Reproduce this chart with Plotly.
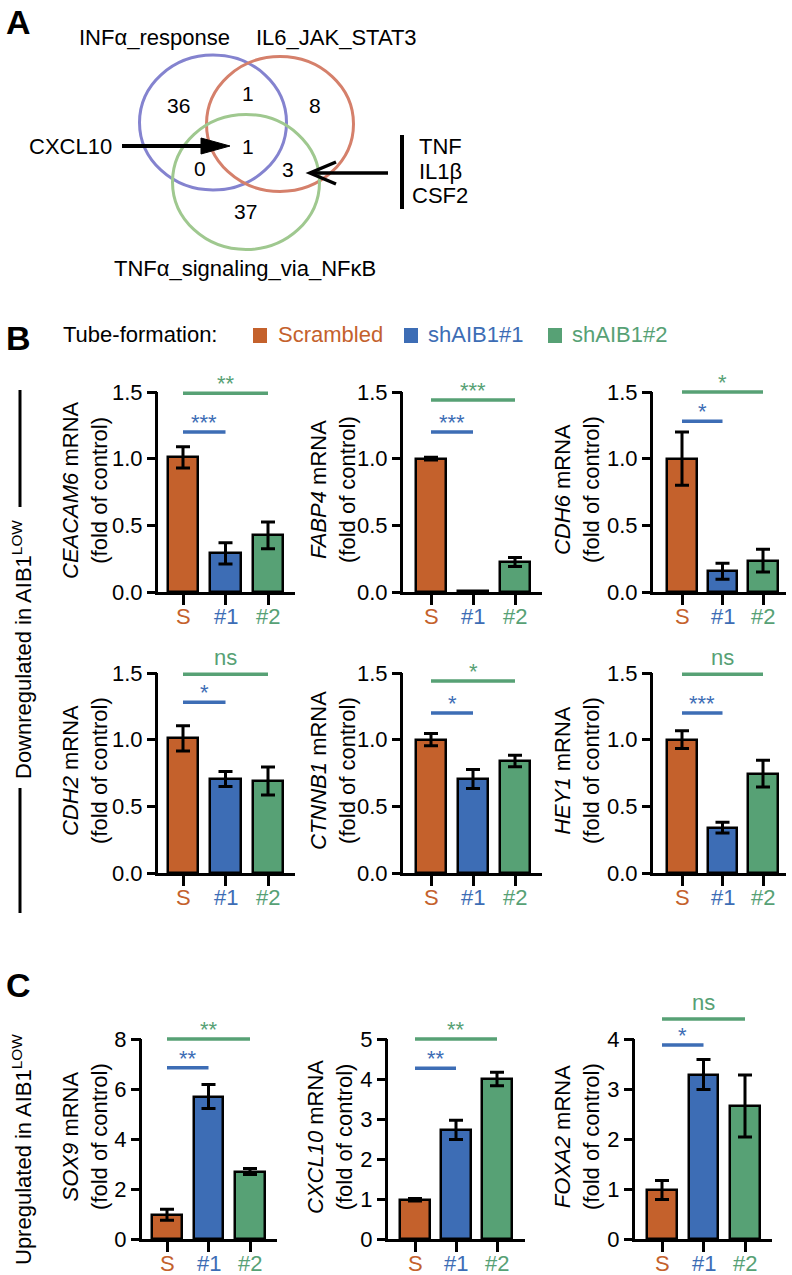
import plotly.graph_objects as go

W, H = 792, 1275
FONT = "Liberation Sans, Arial, Helvetica, sans-serif"
ORANGE = "#C4612C"
BLUE = "#3D6DB5"
GREEN = "#57A175"

# ---------------- data ----------------
groups = ["S", "#1", "#2"]
group_colors = [ORANGE, BLUE, GREEN]
legend_names = ["Scrambled", "shAIB1#1", "shAIB1#2"]

venn_sets = ["INFα_response", "IL6_JAK_STAT3", "TNFα_signaling_via_NFκB"]
venn_regions = ["INF", "IL6", "TNF", "INF&IL6", "INF&TNF", "IL6&TNF", "ALL"]
venn_counts = [36, 8, 37, 1, 0, 3, 1]
venn_cxcl10 = "CXCL10"
venn_shared_genes = ["TNF", "IL1β", "CSF2"]

genes_down = ["CEACAM6", "FABP4", "CDH6", "CDH2", "CTNNB1", "HEY1"]
means_down = [[1.01, 0.29, 0.425], [1.0, 0.004, 0.225], [1.0, 0.155, 0.235],
              [1.01, 0.705, 0.69], [1.0, 0.705, 0.84], [1.0, 0.34, 0.745]]
errs_down = [[0.08, 0.08, 0.10], [0.01, 0.0, 0.033], [0.20, 0.06, 0.085],
             [0.095, 0.057, 0.105], [0.046, 0.072, 0.044], [0.066, 0.04, 0.10]]
sig_down_labels = [["***", "**"], ["***", "***"], ["*", "*"],
                   ["*", "ns"], ["*", "*"], ["***", "ns"]]
sig_down_heights = [[1.2, 1.49], [1.2, 1.44], [1.28, 1.5],
                    [1.28, 1.49], [1.2, 1.44], [1.2, 1.49]]
down_ticks = [0.0, 0.5, 1.0, 1.5]

genes_up = ["SOX9", "CXCL10", "FOXA2"]
means_up = [[0.97, 5.7, 2.7], [0.98, 2.73, 4.0], [0.98, 3.29, 2.66]]
errs_up = [[0.22, 0.48, 0.12], [0.03, 0.24, 0.17], [0.19, 0.30, 0.62]]
sig_up_labels = [["**", "**"], ["**", "**"], ["*", "ns"]]
sig_up_heights = [[6.85, 8.0], [4.27, 5.0], [3.88, 4.4]]
up_ticks = [[0, 2, 4, 6, 8], [0, 1, 2, 3, 4, 5], [0, 1, 2, 3, 4]]

# ---------------- layout helpers (pixel positions) ----------------
def px(x):
    return x / W

def py(y):
    return 1 - y / H

AXIS_PX = 200      # pixel height from 0 to top tick
EXT = 1.14         # extra head-room for significance bars
XLAB_OFF = 24      # distance of category labels below the x axis

# (axis_x, s_center, spacing, end_x, title_cx)
B_cols = [(158, 183, 42.5, 295, 85), (403, 431, 42, 542, 333), (653, 682, 40.5, 786, 577)]
B_rows = [592, 873]
C_cols = [(142, 167, 41.5, 277, 85), (388, 415, 41, 525, 330), (635, 662, 41.5, 772, 577)]
C_row = 1239

panels = []
for i, g in enumerate(genes_down):
    ax_x, sc, sp, ex, tcx = B_cols[i % 3]
    panels.append(dict(gene=g, means=means_down[i], errs=errs_down[i],
                       sig=sig_down_labels[i], sigh=sig_down_heights[i],
                       ticks=down_ticks, fmt="{:.1f}",
                       geom=(ax_x, sc, sp, ex, B_rows[i // 3], tcx)))
for i, g in enumerate(genes_up):
    ax_x, sc, sp, ex, tcx = C_cols[i]
    panels.append(dict(gene=g, means=means_up[i], errs=errs_up[i],
                       sig=sig_up_labels[i], sigh=sig_up_heights[i],
                       ticks=up_ticks[i], fmt="{:d}",
                       geom=(ax_x, sc, sp, ex, C_row, tcx)))

fig = go.Figure()
annotations = []
shapes = []
layout_axes = {}

for k, p in enumerate(panels, start=1):
    sfx = "" if k == 1 else str(k)
    xa, ya = "x" + sfx, "y" + sfx
    ax_x, sc, sp, ex, zy, tcx = p["geom"]
    ymax = p["ticks"][-1]
    xr = [-(sc - ax_x) / sp, (ex - sc) / sp]
    top_px = zy - AXIS_PX * EXT

    fig.add_trace(go.Bar(
        x=[0, 1, 2], y=p["means"], width=0.72,
        marker=dict(color=group_colors, line=dict(color="black", width=2.5)),
        error_y=dict(type="data", array=p["errs"], visible=True, color="black",
                     thickness=3, width=7),
        xaxis=xa, yaxis=ya, showlegend=False, hoverinfo="skip"))

    sig_colors = [BLUE, GREEN]
    sig_ends = [1, 2]
    for j in range(2):
        h = p["sigh"][j]
        fig.add_trace(go.Scatter(
            x=[0, sig_ends[j]], y=[h, h], mode="lines",
            line=dict(color=sig_colors[j], width=3.5),
            xaxis=xa, yaxis=ya, showlegend=False, hoverinfo="skip"))
        lab = p["sig"][j]
        annotations.append(dict(
            x=sig_ends[j] / 2, y=h, xref=xa, yref=ya, text=lab, showarrow=False,
            xanchor="center", yanchor="bottom",
            yshift=(2 if lab == "ns" else -5),
            font=dict(family=FONT, size=22, color=sig_colors[j])))

    # category labels under the x axis
    for gi, (g, c) in enumerate(zip(groups, group_colors)):
        annotations.append(dict(
            x=gi, y=py(zy + XLAB_OFF), xref=xa, yref="paper", text=g, showarrow=False,
            xanchor="center", yanchor="middle",
            font=dict(family=FONT, size=22, color=c)))

    ticktext = [p["fmt"].format(t) for t in p["ticks"]]
    layout_axes["xaxis" + sfx] = dict(
        domain=[px(ax_x), px(ex)], range=xr, anchor=ya, automargin=False,
        tickvals=[0, 1, 2], showticklabels=False,
        ticks="outside", ticklen=10, tickwidth=3, tickcolor="black",
        showline=True, linewidth=3, linecolor="black",
        showgrid=False, zeroline=False, fixedrange=True)
    layout_axes["yaxis" + sfx] = dict(
        domain=[py(zy), py(top_px)], range=[0, ymax * EXT], anchor=xa, automargin=False,
        tickvals=p["ticks"], ticktext=ticktext,
        ticks="outside", ticklen=10, tickwidth=3, tickcolor="black",
        showline=False, showgrid=False, zeroline=False, fixedrange=True,
        tickfont=dict(family=FONT, size=22, color="black"))

    # y axis line only up to the top tick
    shapes.append(dict(type="line", xref="paper", yref="paper",
                       x0=px(ax_x - 1.5), x1=px(ax_x - 1.5),
                       y0=py(zy + 3), y1=py(zy - AXIS_PX),
                       line=dict(color="black", width=3)))
    # axis title
    annotations.append(dict(
        x=px(tcx), y=py(zy - AXIS_PX / 2 - 2), xref="paper", yref="paper",
        text=f"<i>{p['gene']}</i> mRNA<br>(fold of control)", textangle=-90,
        showarrow=False, xanchor="center", yanchor="middle",
        font=dict(family=FONT, size=22, color="black")))

# ---------------- panel letters ----------------
for letter, (lx, ly) in zip(["A", "B", "C"], [(18, 22), (18, 338), (18, 985)]):
    annotations.append(dict(x=px(lx), y=py(ly), xref="paper", yref="paper",
                            text=f"<b>{letter}</b>", showarrow=False,
                            xanchor="center", yanchor="middle",
                            font=dict(family=FONT, size=34, color="black")))

# ---------------- Venn diagram ----------------
venn_circle_geom = [(213, 122.5), (280, 124), (246, 182)]
venn_circle_colors = ["#8483CF", "#D5806B", "#9FC88F"]
RX, RY = 73.5, 67.5
for (cx, cy), col in zip(venn_circle_geom, venn_circle_colors):
    shapes.append(dict(type="circle", xref="paper", yref="paper",
                       x0=px(cx - RX), x1=px(cx + RX), y0=py(cy + RY), y1=py(cy - RY),
                       line=dict(color=col, width=3)))

venn_label_pos = [(154, 37), (336, 37), (245, 268)]
for name, (lx, ly) in zip(venn_sets, venn_label_pos):
    annotations.append(dict(x=px(lx), y=py(ly), xref="paper", yref="paper", text=name,
                            showarrow=False, xanchor="center", yanchor="middle",
                            font=dict(family=FONT, size=22, color="black")))

venn_count_pos = {"INF": (178, 105), "IL6": (315, 105), "TNF": (245, 212),
                  "INF&IL6": (248, 93), "INF&TNF": (200, 168), "IL6&TNF": (288, 170),
                  "ALL": (248, 146)}
for reg, cnt in zip(venn_regions, venn_counts):
    cx, cy = venn_count_pos[reg]
    annotations.append(dict(x=px(cx), y=py(cy), xref="paper", yref="paper", text=str(cnt),
                            showarrow=False, xanchor="center", yanchor="middle",
                            font=dict(family=FONT, size=21, color="black")))

# CXCL10 arrow
annotations.append(dict(x=px(70), y=py(147), xref="paper", yref="paper", text=venn_cxcl10,
                        showarrow=False, xanchor="center", yanchor="middle",
                        font=dict(family=FONT, size=22, color="black")))
shapes.append(dict(type="line", xref="paper", yref="paper", x0=px(122), x1=px(206),
                   y0=py(146), y1=py(146), line=dict(color="black", width=4)))

def path(points, close=False):
    s = "M " + " L ".join(f"{px(x):.5f},{py(y):.5f}" for x, y in points)
    return s + (" Z" if close else "")

shapes.append(dict(type="path", xref="paper", yref="paper",
                   path=path([(201, 138), (230, 146), (201, 154)], close=True),
                   fillcolor="black", line=dict(color="black", width=1)))

# shared-gene arrow (open head)
shapes.append(dict(type="line", xref="paper", yref="paper", x0=px(388), x1=px(311),
                   y0=py(173), y1=py(173), line=dict(color="black", width=3.5)))
shapes.append(dict(type="path", xref="paper", yref="paper",
                   path=path([(336, 162), (310, 173), (336, 184)]),
                   line=dict(color="black", width=3.5)))
shapes.append(dict(type="line", xref="paper", yref="paper", x0=px(402), x1=px(402),
                   y0=py(135), y1=py(209), line=dict(color="black", width=4)))
for gname, gy in zip(venn_shared_genes, [147, 172, 196]):
    annotations.append(dict(x=px(440), y=py(gy), xref="paper", yref="paper", text=gname,
                            showarrow=False, xanchor="center", yanchor="middle",
                            font=dict(family=FONT, size=22, color="black")))

# ---------------- legend row (panel B) ----------------
annotations.append(dict(x=px(61), y=py(334), xref="paper", yref="paper",
                        text="Tube-formation:", showarrow=False,
                        xanchor="left", yanchor="middle",
                        font=dict(family=FONT, size=22, color="black")))
legend_sq = [253, 404, 548]
legend_tx = [276, 426, 570]
for name, col, sx, tx in zip(legend_names, group_colors, legend_sq, legend_tx):
    shapes.append(dict(type="rect", xref="paper", yref="paper",
                       x0=px(sx), x1=px(sx + 14), y0=py(343), y1=py(328),
                       fillcolor=col, line=dict(width=0)))
    annotations.append(dict(x=px(tx), y=py(335), xref="paper", yref="paper", text=name,
                            showarrow=False, xanchor="left", yanchor="middle",
                            font=dict(family=FONT, size=22, color=col)))

# ---------------- side labels ----------------
annotations.append(dict(x=px(22), y=py(650), xref="paper", yref="paper",
                        text="Downregulated in AIB1<sup>LOW</sup>", textangle=-90,
                        showarrow=False, xanchor="center", yanchor="middle",
                        font=dict(family=FONT, size=22, color="black")))
shapes.append(dict(type="line", xref="paper", yref="paper", x0=px(20), x1=px(20),
                   y0=py(390), y1=py(507), line=dict(color="black", width=3)))
shapes.append(dict(type="line", xref="paper", yref="paper", x0=px(20), x1=px(20),
                   y0=py(788), y1=py(913), line=dict(color="black", width=3)))
annotations.append(dict(x=px(22), y=py(1150), xref="paper", yref="paper",
                        text="Upregulated in AIB1<sup>LOW</sup>", textangle=-90,
                        showarrow=False, xanchor="center", yanchor="middle",
                        font=dict(family=FONT, size=22, color="black")))

fig.update_layout(
    width=W, height=H, autosize=False,
    margin=dict(l=0, r=0, t=0, b=0, autoexpand=False),
    paper_bgcolor="white", plot_bgcolor="white",
    font=dict(family=FONT, size=22, color="black"),
    annotations=annotations, shapes=shapes, bargap=0,
    **layout_axes)

fig.write_html("out.html", config={"displayModeBar": False},
               post_script="document.body.style.margin='0';document.body.style.overflow='hidden';")
